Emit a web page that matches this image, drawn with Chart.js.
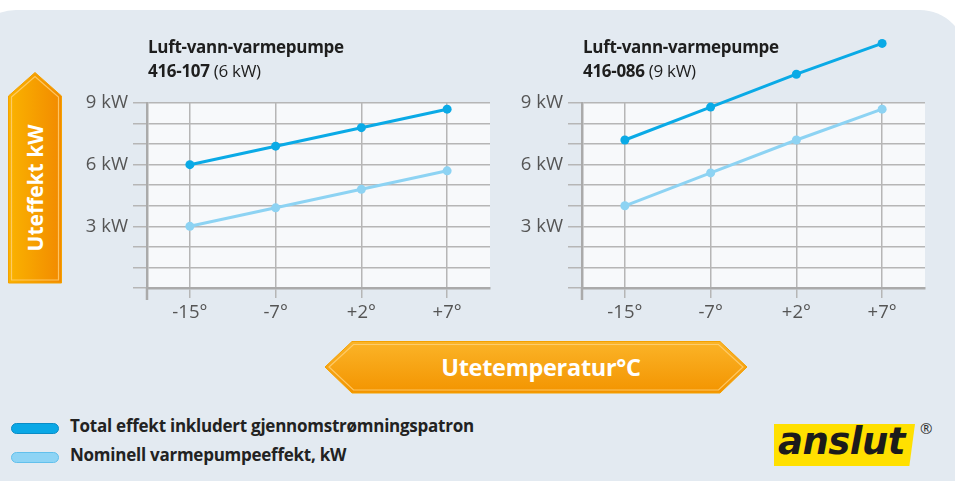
<!DOCTYPE html>
<html lang="no">
<head>
<meta charset="utf-8">
<script src="https://cdn.jsdelivr.net/npm/chart.js@4"></script>
<style>
  body { margin: 0; width: 955px; height: 481px; overflow: hidden; background: #fff; position: relative; font-family: "Open Sans", sans-serif; }
  #panel { position: absolute; left: -30px; top: 10px; width: 996px; height: 500px; border-radius: 46px; background: #e3eaf1; }
  canvas.c { position: absolute; top: 0; }
  .title { position: absolute; top: 35px; color: #1e1e1e; font-size: 17px; line-height: 24px; letter-spacing: -0.3px; }
  .title b { font-weight: 700; }
  .title span { font-weight: 400; }
  .legend { position: absolute; left: 11px; font-weight: 700; font-size: 17px; color: #222; letter-spacing: -0.25px; }
  .legend i { position: absolute; left: 0; top: 5px; width: 46px; height: 9px; border-radius: 6px; }
  .legend span { position: absolute; left: 59px; top: -4px; white-space: nowrap; }
  #logo { position: absolute; left: 774px; top: 424px; width: 141px; height: 42px; background: #ffe000; clip-path: polygon(0 0, 100% 0, 96% 100%, 0 100%); }
  #logo span { position: absolute; left: 4px; top: -4px; font-family: "DejaVu Sans", sans-serif; font-weight: 700; font-style: italic; font-size: 37px; color: #1b1b1b; letter-spacing: -0.5px; }
  #reg { position: absolute; left: 920px; top: 418px; font-size: 15px; color: #333; }
</style>
</head>
<body>
<div id="panel"></div>

<svg width="955" height="481" style="position:absolute;left:0;top:0">
  <defs>
    <linearGradient id="gv" x1="0" y1="0" x2="1" y2="0">
      <stop offset="0" stop-color="#fab300"/>
      <stop offset="1" stop-color="#f28a00"/>
    </linearGradient>
    <linearGradient id="gh" x1="0" y1="0" x2="0" y2="1">
      <stop offset="0" stop-color="#fbb428"/>
      <stop offset="1" stop-color="#f39400"/>
    </linearGradient>
  </defs>
  <polygon points="8.5,96 35,72.5 61.5,96 61.5,283 8.5,283" fill="url(#gv)" stroke="#f4a100" stroke-width="1"/>
  <polygon points="11.5,97 35,76.5 58.5,97 58.5,280 11.5,280" fill="none" stroke="#ffd27a" stroke-width="1.2" opacity="0.8"/>
  <text x="0" y="0" transform="translate(43,188) rotate(-90)" text-anchor="middle" fill="#fff" font-family="Open Sans" font-weight="700" font-size="21">Uteffekt kW</text>
  <polygon points="325,367 352,341.5 720,341.5 747,367 720,393 352,393" fill="url(#gh)" stroke="#f4a100" stroke-width="1"/>
  <polygon points="329,367 353.5,344.5 718.5,344.5 743,367 718.5,390 353.5,390" fill="none" stroke="#ffd27a" stroke-width="1.2" opacity="0.8"/>
  <text x="541" y="375.5" text-anchor="middle" fill="#fff" font-family="Open Sans" font-weight="700" font-size="23.5" letter-spacing="-0.3">Utetemperatur°C</text>
</svg>

<canvas id="chartA" class="c" style="left:0px"></canvas>
<canvas id="chartB" class="c" style="left:435px"></canvas>

<div class="title" style="left:148px"><b>Luft-vann-varmepumpe</b><br><b>416-107</b> <span>(6 kW)</span></div>
<div class="title" style="left:583px"><b>Luft-vann-varmepumpe</b><br><b>416-086</b> <span>(9 kW)</span></div>

<div class="legend" style="top:418px"><i style="background:#0aa8e6;border:1px solid #0a8cc6"></i><span>Total effekt inkludert gjennomstrømningspatron</span></div>
<div class="legend" style="top:447px"><i style="background:#8ed4f5;border:1px solid #62c0ec"></i><span>Nominell varmepumpeeffekt, kW</span></div>

<div id="logo"><span>anslut</span></div>
<div id="reg">®</div>

<script>
// temperatures on the x axis
const temps = ['-15°', '-7°', '+2°', '+7°'];

// 416-107 (6 kW)
const total6 = [6.0, 6.9, 7.8, 8.7];
const nominal6 = [3.0, 3.9, 4.8, 5.7];

// 416-086 (9 kW)
const total9 = [7.2, 8.8, 10.4, 11.9];
const nominal9 = [4.0, 5.6, 7.2, 8.7];

const yLabeled = [3, 6, 9];

const darkBlue = '#0aaae6';
const lightBlue = '#8dd3f3';
const gridCol = '#b6b6b6';
const tickCol = '#555';

// plot background, y axis stub below the x axis, and points above the plot top
const plotBg = {
    id: 'plotBg',
    beforeDraw(chart) {
        const a = chart.chartArea, ctx = chart.ctx;
        ctx.save();
        ctx.fillStyle = '#f7f9fb';
        ctx.fillRect(a.left, a.top, a.right - a.left, a.bottom - a.top);
        ctx.restore();
    },
    afterDatasetsDraw(chart) {
        const a = chart.chartArea, ctx = chart.ctx;
        ctx.save();
        chart.data.datasets.forEach((ds, i) => {
            chart.getDatasetMeta(i).data.forEach(pt => {
                if (pt.y < a.top + 4) {
                    ctx.fillStyle = ds.backgroundColor;
                    ctx.beginPath();
                    ctx.arc(pt.x, pt.y, ds.pointRadius, 0, Math.PI * 2);
                    ctx.fill();
                }
            });
        });
        ctx.restore();
    },
    afterDraw(chart) {
        const a = chart.chartArea, ctx = chart.ctx;
        ctx.save();
        ctx.strokeStyle = '#aaaaaa';
        ctx.lineWidth = 2.5;
        ctx.beginPath();
        ctx.moveTo(a.left, a.bottom);
        ctx.lineTo(a.left, a.bottom + 12);
        ctx.stroke();
        ctx.restore();
    }
};

function makeChart(id, total, nominal) {
    const el = document.getElementById(id);
    el.width = 500;
    el.height = 330;
    return new Chart(el.getContext('2d'), {
        type: 'line',
        data: {
            labels: temps,
            datasets: [
                { data: nominal, borderColor: lightBlue, backgroundColor: lightBlue, borderWidth: 3,
                  pointRadius: 4.5, pointBorderWidth: 0, clip: false },
                { data: total, borderColor: darkBlue, backgroundColor: darkBlue, borderWidth: 3,
                  pointRadius: 4.5, pointBorderWidth: 0, clip: false }
            ]
        },
        options: {
            responsive: false,
            animation: false,
            events: [],
            layout: { padding: { top: 103, right: 10, left: 0, bottom: 0 } },
            plugins: { legend: { display: false }, tooltip: { enabled: false } },
            scales: {
                x: {
                    type: 'category',
                    offset: true,
                    afterFit: (s) => { s.height = 42; },
                    grid: { offset: false, color: gridCol, lineWidth: 1.5, tickLength: 10, drawTicks: true },
                    border: { display: true, color: '#aaaaaa', width: 2.5 },
                    ticks: { color: tickCol, padding: 4, font: { family: 'Open Sans', size: 18.5 } }
                },
                y: {
                    min: 0, max: 9,
                    afterFit: (s) => { s.width = 147; },
                    grid: { color: gridCol, lineWidth: 1.5, tickLength: 14 },
                    border: { display: true, color: '#aaaaaa', width: 2.5 },
                    ticks: {
                        stepSize: 1, autoSkip: false, color: tickCol, padding: 5,
                        font: { family: 'Open Sans', size: 18.5 },
                        callback: (v) => yLabeled.includes(v) ? v + ' kW' : ''
                    }
                }
            }
        },
        plugins: [plotBg]
    });
}

makeChart('chartA', total6, nominal6);
makeChart('chartB', total9, nominal9);
</script>
</body>
</html>
